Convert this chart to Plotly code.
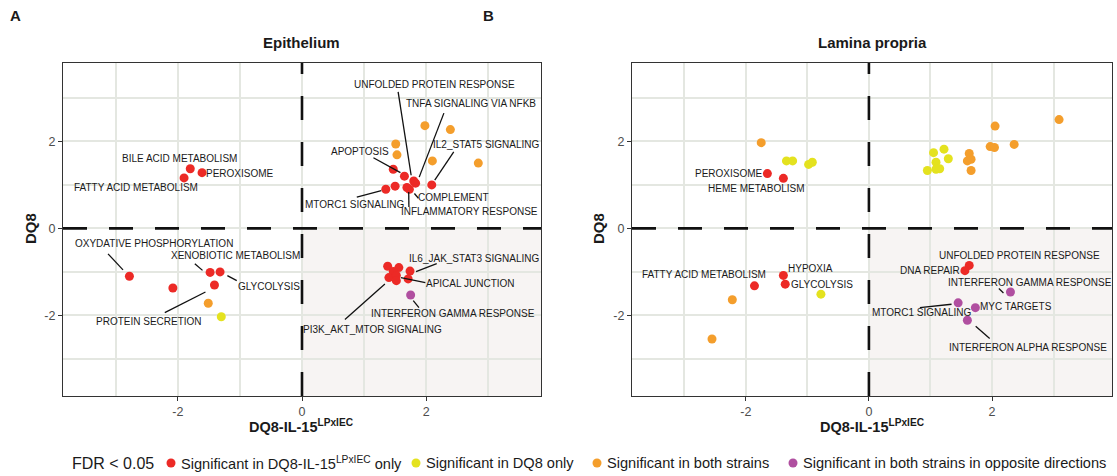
import plotly.graph_objects as go

W, H = 1117, 476

# ---------------- data ----------------
GROUP_NAMES = [
    "Significant in DQ8-IL-15<sup>LPxIEC</sup> only",
    "Significant in DQ8 only",
    "Significant in both strains",
    "Significant in both strains in opposite directions",
]
GROUP_COLORS = ["#EC2A26", "#E4E21F", "#F49E2C", "#B04FA0"]

# Epithelium: x = DQ8-IL-15 LPxIEC NES, y = DQ8 NES, group index, pathway label
epi_x = [-1.80, -1.61, -1.90, 1.47, 1.65, 1.80, 1.83, 2.09, 1.50, 1.35, 1.69, 1.73,
         -2.78, -1.48, -1.32, -2.08, -1.41, 1.38, 1.56, 1.47, 1.74, 1.40, 1.52, 1.52, 1.71,
         1.98, 2.39, 1.51, 1.53, 2.10, 2.84, -1.51,
         -1.30,
         1.75]
epi_y = [1.37, 1.28, 1.16, 1.36, 1.20, 1.09, 1.04, 1.00, 0.97, 0.90, 0.94, 0.90,
         -1.10, -1.01, -1.00, -1.37, -1.30, -0.87, -0.90, -0.99, -0.98, -1.13, -1.08, -1.20, -1.16,
         2.36, 2.27, 1.94, 1.69, 1.55, 1.50, -1.72,
         -2.03,
         -1.53]
epi_group = [0] * 25 + [2] * 7 + [1] + [3]
epi_label = ["BILE ACID METABOLISM", "PEROXISOME", "FATTY ACID METABOLISM", "",
             "APOPTOSIS", "UNFOLDED PROTEIN RESPONSE", "TNFA SIGNALING VIA NFKB",
             "IL2_STAT5 SIGNALING", "", "MTORC1 SIGNALING", "INFLAMMATORY RESPONSE", "COMPLEMENT",
             "OXYDATIVE PHOSPHORYLATION", "XENOBIOTIC METABOLISM", "GLYCOLYSIS", "",
             "PROTEIN SECRETION", "", "", "", "IL6_JAK_STAT3 SIGNALING",
             "PI3K_AKT_MTOR SIGNALING", "APICAL JUNCTION", "", "",
             "", "", "", "", "", "", "",
             "",
             "INTERFERON GAMMA RESPONSE"]

# Lamina propria
lp_x = [-1.65, -1.39, -1.39, -1.36, -1.86, 1.63, 1.56,
        -1.34, -1.24, -0.98, -0.92, 1.05, 1.22, 1.09, 1.29, 0.95, 1.09, 1.15, -0.78,
        -1.75, 3.09, 2.05, 2.36, 1.97, 2.04, 1.63, 1.66, 1.60, 1.66, -2.22, -2.55,
        2.30, 1.45, 1.73, 1.60]
lp_y = [1.26, 1.15, -1.08, -1.28, -1.32, -0.85, -0.97,
        1.55, 1.55, 1.47, 1.52, 1.74, 1.82, 1.52, 1.60, 1.33, 1.36, 1.37, -1.51,
        1.97, 2.50, 2.35, 1.93, 1.88, 1.86, 1.72, 1.59, 1.55, 1.33, -1.64, -2.54,
        -1.46, -1.71, -1.82, -2.11]
lp_group = [0] * 7 + [1] * 12 + [2] * 12 + [3] * 4
lp_label = ["PEROXISOME", "HEME METABOLISM", "HYPOXIA", "GLYCOLYSIS", "FATTY ACID METABOLISM",
            "UNFOLDED PROTEIN RESPONSE", "DNA REPAIR",
            "", "", "", "", "", "", "", "", "", "", "", "",
            "", "", "", "", "", "", "", "", "", "", "", "",
            "INTERFERON GAMMA RESPONSE", "MTORC1 SIGNALING", "MYC TARGETS",
            "INTERFERON ALPHA RESPONSE"]

AXIS_TICKS = [-2, 0, 2]
AXIS_TICKTEXT = ["-2", "0", "2"]

# ---------------- label placement (pixel offsets from the point, y down) ----------------
# text centre offset, optional leader segment (start, end)
EPI_LAYOUT = {
    "BILE ACID METABOLISM": ((-11, -10), None),
    "PEROXISOME": ((38, 1), None),
    "FATTY ACID METABOLISM": ((-48, 10), None),
    "UNFOLDED PROTEIN RESPONSE": ((21, -96), ((-15.6, -89), (-2.6, -5.7))),
    "TNFA SIGNALING VIA NFKB": ((55, -80), ((28.3, -70), (3.6, -6))),
    "IL2_STAT5 SIGNALING": ((55, -40), ((22, -33), (3, -4.7))),
    "APOPTOSIS": ((-44, -25), ((-31, -18.4), (-4, -3.5))),
    "MTORC1 SIGNALING": ((-31, 15), ((-29, 8), (-4.5, 1.5))),
    "INFLAMMATORY RESPONSE": ((63, 24), ((2, 19.4), (1.8, 4.5))),
    "COMPLEMENT": ((44, 8), ((9, 9), (5, 4.3))),
    "OXYDATIVE PHOSPHORYLATION": ((25, -33), ((-21.4, -22.4), (-6.4, -6.4))),
    "XENOBIOTIC METABOLISM": ((25, -17), ((-15.3, -8.7), (-7.6, -2))),
    "GLYCOLYSIS": ((49, 15), ((16.7, 8.7), (7.3, 3.7))),
    "PROTEIN SECRETION": ((-65, 36), ((-49.7, 27.6), (-9, 7))),
    "IL6_JAK_STAT3 SIGNALING": ((64, -13), ((26.7, -7.4), (6, 0.6))),
    "APICAL JUNCTION": ((74, 8), ((29, 7.3), (4.5, 2.3))),
    "PI3K_AKT_MTOR SIGNALING": ((-16, 52), ((-44, 42), (-4, 6.3))),
    "INTERFERON GAMMA RESPONSE": ((42, 18), ((8.3, 12.6), (2.6, 5.6))),
}
LP_LAYOUT = {
    "PEROXISOME": ((-38, 0), None),
    "HEME METABOLISM": ((-27, 10), None),
    "FATTY ACID METABOLISM": ((-50, -11), None),
    "HYPOXIA": ((27, -7), None),
    "GLYCOLYSIS": ((37, 0), None),
    "UNFOLDED PROTEIN RESPONSE": ((50, -10), None),
    "DNA REPAIR": ((-35, 0), None),
    "INTERFERON GAMMA RESPONSE": ((20, -9), ((-11.6, -3.4), (-7, 1))),
    "MTORC1 SIGNALING": ((-37, 10), ((-38.3, 4.7), (-6.6, 1.4))),
    "MYC TARGETS": ((41, -1), None),
    "INTERFERON ALPHA RESPONSE": ((61, 27), ((22.3, 18.3), (8.3, 6))),
}

FONT = "Liberation Sans, Arial, Helvetica, sans-serif"
GRID = "#E4E7E1"
SHADE = "#F7F4F3"

fig = go.Figure()

panels = [
    ("x", "y", epi_x, epi_y, epi_group, epi_label, EPI_LAYOUT),
    ("x2", "y2", lp_x, lp_y, lp_group, lp_label, LP_LAYOUT),
]

annotations = []
shapes = []

X_RANGES = [[-3.85, 3.85], [-3.85, 3.95]]
Y_RANGE = [-3.85, 3.80]

for pi, (xr, yr, xs, ys, gs, labels, lay) in enumerate(panels):
    for g, (name, col) in enumerate(zip(GROUP_NAMES, GROUP_COLORS)):
        idx = [i for i, gg in enumerate(gs) if gg == g]
        if not idx:
            continue
        fig.add_trace(go.Scatter(
            x=[xs[i] for i in idx], y=[ys[i] for i in idx],
            mode="markers", xaxis=xr, yaxis=yr, name=name, showlegend=False,
            marker=dict(color=col, size=9, line=dict(width=0)),
            hoverinfo="skip",
        ))
    # shaded lower-right quadrant
    shapes.append(dict(type="rect", xref=xr, yref=yr, x0=0, x1=X_RANGES[pi][1],
                       y0=Y_RANGE[0], y1=0, fillcolor=SHADE, line=dict(width=0),
                       layer="below"))
    # dashed zero lines
    shapes.append(dict(type="line", xref=xr, yref=yr, x0=X_RANGES[pi][0], x1=X_RANGES[pi][1],
                       y0=0, y1=0, line=dict(color="#111111", width=2.6, dash="24px,22px"),
                       layer="above"))
    shapes.append(dict(type="line", xref=xr, yref=yr, x0=0, x1=0, y0=Y_RANGE[0], y1=Y_RANGE[1],
                       line=dict(color="#111111", width=2.6, dash="24px,22px"), layer="above"))
    # pathway labels
    for i, lab in enumerate(labels):
        if not lab:
            continue
        (tx, ty), leader = lay[lab]
        annotations.append(dict(
            x=xs[i], y=ys[i], xref=xr, yref=yr, text=lab, showarrow=True,
            ax=tx, ay=ty, axref="pixel", ayref="pixel", arrowcolor="rgba(0,0,0,0)",
            arrowwidth=0.1, font=dict(size=10, color="#1a1a1a", family=FONT),
        ))
        if leader:
            (sx, sy), (ex, ey) = leader
            shapes.append(dict(
                type="line", xref=xr, yref=yr, xsizemode="pixel", ysizemode="pixel",
                xanchor=xs[i], yanchor=ys[i], x0=sx, x1=ex, y0=-sy, y1=-ey,
                line=dict(color="#111111", width=1.3), layer="above"))

axis_common = dict(
    showline=True, linecolor="#333333", linewidth=1.3, mirror=True,
    ticks="outside", ticklen=4, tickcolor="#333333", tickwidth=1.1,
    tickvals=AXIS_TICKS, ticktext=AXIS_TICKTEXT,
    tickfont=dict(size=12.5, color="#4d4d4d", family=FONT),
    showgrid=True, gridcolor=GRID, gridwidth=1.8, zeroline=False,
    minor=dict(dtick=1, tick0=0, showgrid=True, gridcolor=GRID, gridwidth=1.8, ticks=""),
)


def px_x(p):
    return p / W


def px_y(p):
    return 1 - p / H


fig.update_layout(
    width=W, height=H, margin=dict(l=0, r=0, t=0, b=0),
    paper_bgcolor="white", plot_bgcolor="white",
    font=dict(family=FONT, color="#1a1a1a"),
    showlegend=False,
    xaxis=dict(domain=[px_x(63), px_x(541)], range=X_RANGES[0], anchor="y", **axis_common),
    yaxis=dict(domain=[px_y(396), px_y(63)], range=Y_RANGE, anchor="x", **axis_common),
    xaxis2=dict(domain=[px_x(632), px_x(1112)], range=X_RANGES[1], anchor="y2", **axis_common),
    yaxis2=dict(domain=[px_y(396), px_y(63)], range=Y_RANGE, anchor="x2", **axis_common),
)


# titles, axis titles, panel letters
def paper_text(x, y, text, size, angle=0, anchor="center"):
    annotations.append(dict(x=px_x(x), y=px_y(y), xref="paper", yref="paper", text=text,
                            showarrow=False, textangle=angle, xanchor=anchor, yanchor="middle",
                            font=dict(size=size, color="#1a1a1a", family=FONT)))


paper_text(15, 16, "<b>A</b>", 15)
paper_text(488, 16, "<b>B</b>", 15)
paper_text(302, 42, "<b>Epithelium</b>", 15)
paper_text(872, 42, "<b>Lamina propria</b>", 15)
paper_text(30, 229, "<b>DQ8</b>", 15, angle=-90)
paper_text(598, 229, "<b>DQ8</b>", 15, angle=-90)
paper_text(302, 426, "<b>DQ8-IL-15<sup>LPxIEC</sup></b>", 14.5)
paper_text(872, 426, "<b>DQ8-IL-15<sup>LPxIEC</sup></b>", 14.5)

# legend row
LEG_Y = 463
paper_text(70, LEG_Y, "FDR &lt; 0.05", 16, anchor="left")
key_x = [171, 416, 597, 793]
for kx, name, col in zip(key_x, GROUP_NAMES, GROUP_COLORS):
    shapes.append(dict(type="circle", xref="paper", yref="paper", xsizemode="pixel",
                       ysizemode="pixel", xanchor=px_x(kx), yanchor=px_y(LEG_Y),
                       x0=-4.5, x1=4.5, y0=-4.5, y1=4.5, fillcolor=col, line=dict(width=0)))
    paper_text(kx + 8, LEG_Y, name, 14.6, anchor="left")

fig.update_layout(annotations=annotations, shapes=shapes)
fig.write_html("out.html")
